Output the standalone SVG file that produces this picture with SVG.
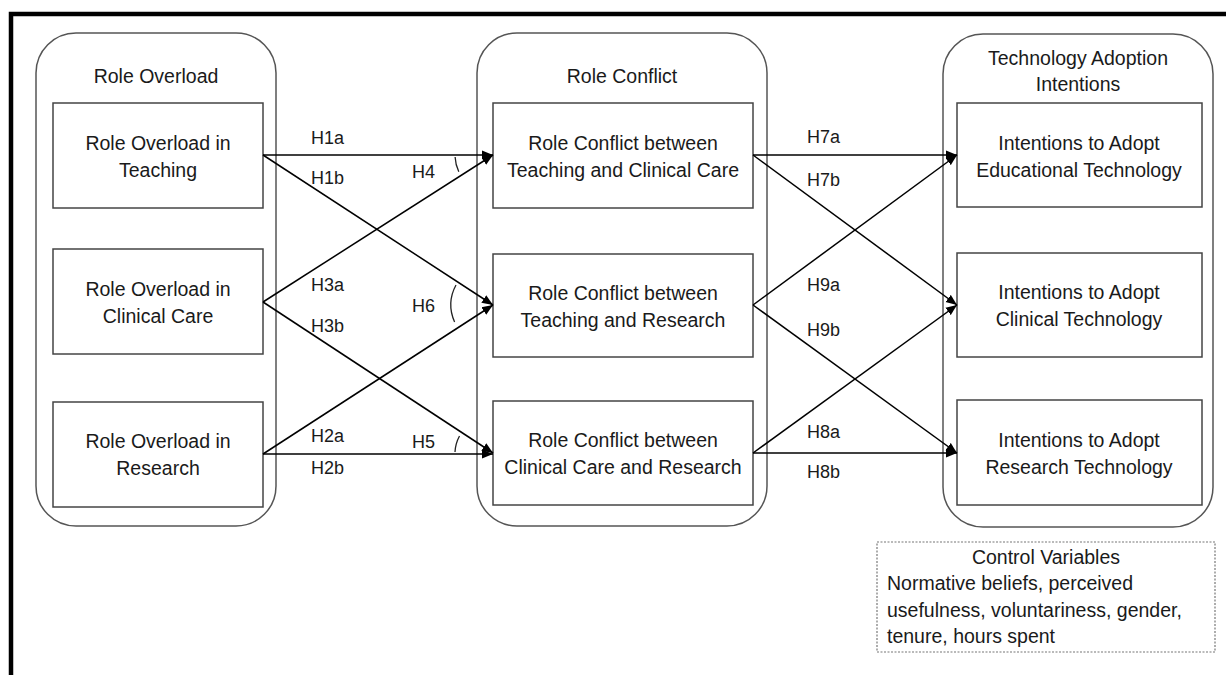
<svg xmlns="http://www.w3.org/2000/svg" width="1226" height="675" viewBox="0 0 1226 675">
<defs>
<marker id="ah" markerUnits="userSpaceOnUse" markerWidth="11" markerHeight="10" refX="11" refY="5" orient="auto">
<path d="M0,0.5 L11,5 L0,9.5 z" fill="#000"/>
</marker>
<style>
text{font-family:"Liberation Sans",Arial,sans-serif;font-size:19.5px;fill:#1a1a1a;text-anchor:middle}
.lab{font-size:18px;text-anchor:start}
.cv{text-anchor:start}
.grp{fill:#fff;stroke:#555;stroke-width:1.5}
.box{fill:#fff;stroke:#444;stroke-width:1.5}
.conn line{stroke:#000;stroke-width:1.5;marker-end:url(#ah)}
.arc{fill:none;stroke:#222;stroke-width:1.3}
</style>
</defs>
<rect width="1226" height="675" fill="#fff"/>
<path d="M11 675 L11 14 L1226 14" fill="none" stroke="#000" stroke-width="4.5"/>

<g id="grp-role-overload">
<rect class="grp" x="36" y="33" width="240" height="493" rx="40" ry="40"/>
<text x="156" y="83">Role Overload</text>
</g>
<g id="grp-role-conflict">
<rect class="grp" x="477" y="33" width="290" height="493" rx="40" ry="40"/>
<text x="622" y="83">Role Conflict</text>
</g>
<g id="grp-tech-adoption">
<rect class="grp" x="943" y="34" width="270" height="493" rx="40" ry="40"/>
<text x="1078" y="65">Technology Adoption</text>
<text x="1078" y="91">Intentions</text>
</g>

<g id="n-ro-teaching">
<rect class="box" x="53" y="103" width="210" height="105"/>
<text x="158" y="150">Role Overload in</text>
<text x="158" y="177">Teaching</text>
</g>
<g id="n-ro-clinical">
<rect class="box" x="53" y="249" width="210" height="105"/>
<text x="158" y="296">Role Overload in</text>
<text x="158" y="323">Clinical Care</text>
</g>
<g id="n-ro-research">
<rect class="box" x="53" y="402" width="210" height="105"/>
<text x="158" y="448">Role Overload in</text>
<text x="158" y="475">Research</text>
</g>

<g id="n-rc-teach-clin">
<rect class="box" x="493" y="103" width="260" height="105"/>
<text x="623" y="150">Role Conflict between</text>
<text x="623" y="177">Teaching and Clinical Care</text>
</g>
<g id="n-rc-teach-res">
<rect class="box" x="493" y="254" width="260" height="103"/>
<text x="623" y="300">Role Conflict between</text>
<text x="623" y="327">Teaching and Research</text>
</g>
<g id="n-rc-clin-res">
<rect class="box" x="493" y="401" width="260" height="104"/>
<text x="623" y="447">Role Conflict between</text>
<text x="623" y="474">Clinical Care and Research</text>
</g>

<g id="n-ti-edu">
<rect class="box" x="957" y="103" width="245" height="104"/>
<text x="1079" y="150">Intentions to Adopt</text>
<text x="1079" y="177">Educational Technology</text>
</g>
<g id="n-ti-clin">
<rect class="box" x="957" y="253" width="245" height="104"/>
<text x="1079" y="299">Intentions to Adopt</text>
<text x="1079" y="326">Clinical Technology</text>
</g>
<g id="n-ti-res">
<rect class="box" x="957" y="400" width="245" height="105"/>
<text x="1079" y="447">Intentions to Adopt</text>
<text x="1079" y="474">Research Technology</text>
</g>

<g id="n-control">
<rect x="877" y="542" width="338" height="110" fill="#fff" stroke="#777" stroke-width="1.2" stroke-dasharray="2 1.5"/>
<text x="1046" y="564">Control Variables</text>
<text class="cv" x="887" y="590">Normative beliefs, perceived</text>
<text class="cv" x="887" y="617">usefulness, voluntariness, gender,</text>
<text class="cv" x="887" y="643">tenure, hours spent</text>
</g>

<g id="connectors" class="conn">
<line x1="263" y1="155" x2="493" y2="155"/>
<line x1="263" y1="155" x2="493" y2="305"/>
<line x1="263" y1="302" x2="493" y2="155"/>
<line x1="263" y1="302" x2="493" y2="453"/>
<line x1="263" y1="454" x2="493" y2="305"/>
<line x1="263" y1="454" x2="493" y2="454"/>
<line x1="753" y1="155" x2="957" y2="155"/>
<line x1="753" y1="155" x2="957" y2="305"/>
<line x1="753" y1="305" x2="957" y2="155"/>
<line x1="753" y1="305" x2="957" y2="453"/>
<line x1="753" y1="453" x2="957" y2="305"/>
<line x1="753" y1="453" x2="957" y2="453"/>
<path class="arc" d="M455.1 157 A38 38 0 0 0 458.8 171.7"/>
<path class="arc" d="M456 285 A42 42 0 0 0 454.6 322"/>
<path class="arc" d="M459.5 436 A38 38 0 0 0 455 452"/>
<text class="lab" x="311" y="144">H1a</text>
<text class="lab" x="311" y="184">H1b</text>
<text class="lab" x="412" y="178">H4</text>
<text class="lab" x="311" y="291">H3a</text>
<text class="lab" x="311" y="332">H3b</text>
<text class="lab" x="412" y="312">H6</text>
<text class="lab" x="311" y="442">H2a</text>
<text class="lab" x="412" y="448">H5</text>
<text class="lab" x="311" y="474">H2b</text>
<text class="lab" x="807" y="143">H7a</text>
<text class="lab" x="807" y="186">H7b</text>
<text class="lab" x="807" y="291">H9a</text>
<text class="lab" x="807" y="336">H9b</text>
<text class="lab" x="807" y="438">H8a</text>
<text class="lab" x="807" y="478">H8b</text>
</g>
</svg>
